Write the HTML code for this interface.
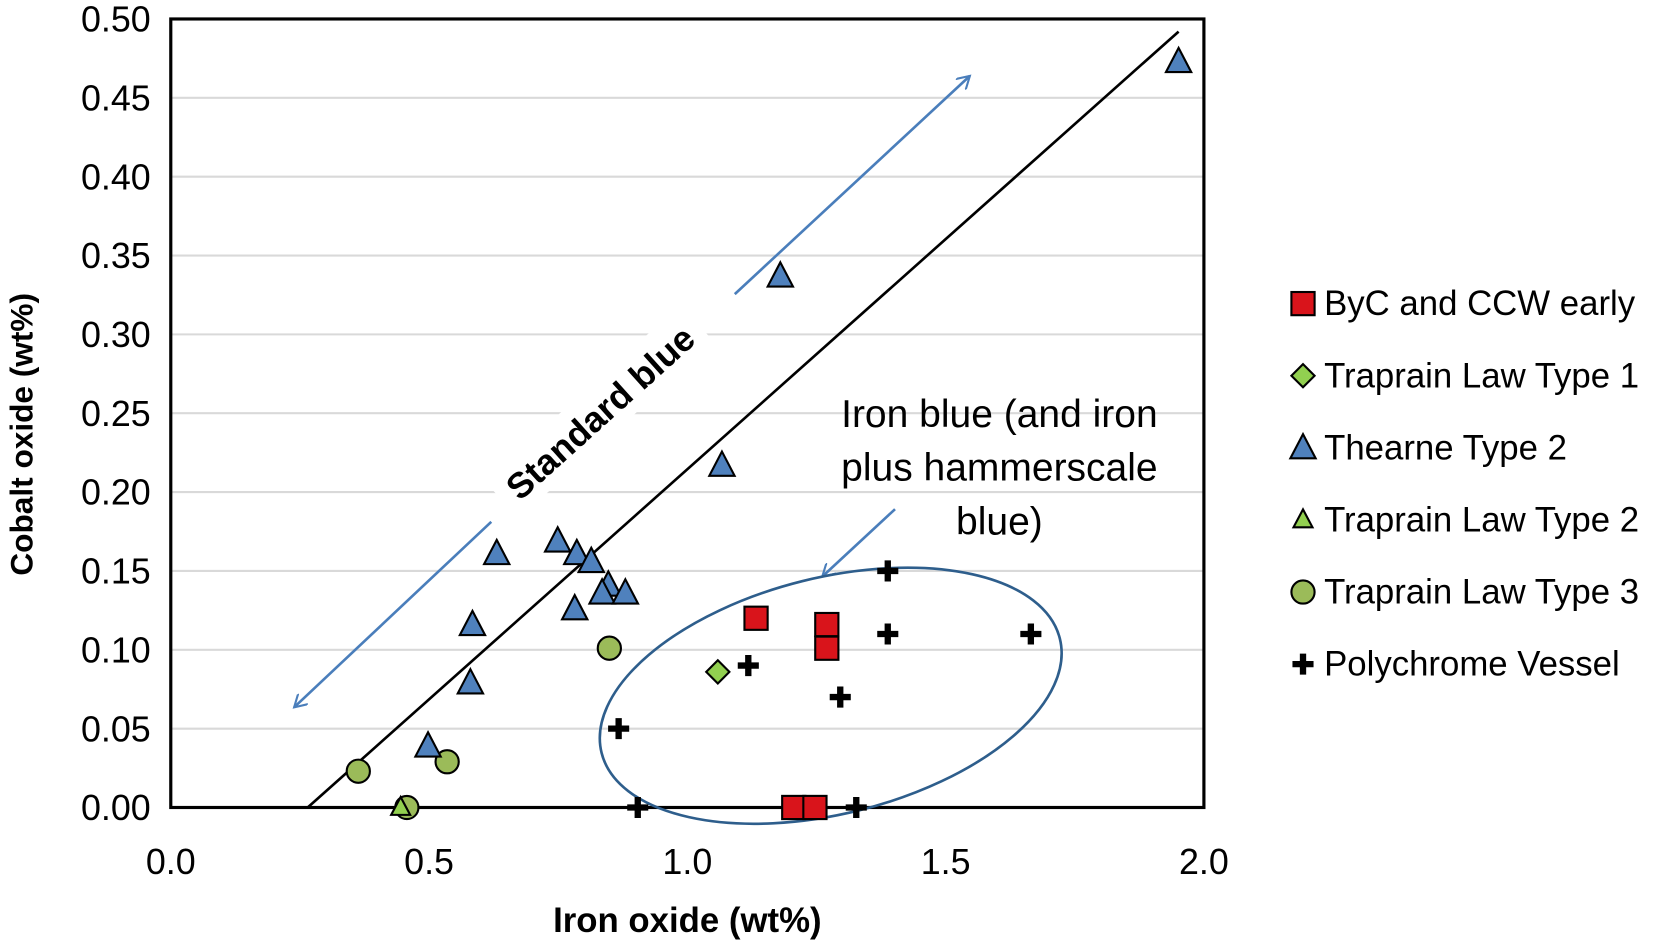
<!DOCTYPE html>
<html><head><meta charset="utf-8"><style>
html,body{margin:0;padding:0;background:#fff;}
svg{display:block;font-family:"Liberation Sans",Calibri,sans-serif;}
</style></head><body>
<svg id="chart" width="1653" height="942" viewBox="0 0 1568 893.6" preserveAspectRatio="none" xmlns="http://www.w3.org/2000/svg">
<g id="grid"></g>
<g id="axes"></g>
<g id="annot"></g>
<g id="marks"></g>
<g id="legend"></g>
</svg>
<script>
const xTicks=[0,0.5,1.0,1.5,2.0];
const xTickLabels=["0.0","0.5","1.0","1.5","2.0"];
const yTicks=[0,0.05,0.1,0.15,0.2,0.25,0.3,0.35,0.4,0.45,0.5];
const yTickLabels=["0.00","0.05","0.10","0.15","0.20","0.25","0.30","0.35","0.40","0.45","0.50"];
const seriesNames=["ByC and CCW early","Traprain Law Type 1","Thearne Type 2","Traprain Law Type 2","Traprain Law Type 3","Polychrome Vessel"];
const bycX=[1.133,1.27,1.27,1.206,1.247];
const bycY=[0.120,0.116,0.101,0,0];
const tl1X=[1.059];
const tl1Y=[0.086];
const thX=[1.951,1.18,1.067,0.631,0.749,0.786,0.814,0.847,0.835,0.88,0.782,0.584,0.58,0.498];
const thY=[0.473,0.337,0.217,0.161,0.169,0.161,0.156,0.141,0.136,0.136,0.126,0.116,0.079,0.039];
const tl2X=[0.445];
const tl2Y=[0.0];
const tl3X=[0.363,0.535,0.457,0.849];
const tl3Y=[0.023,0.029,0,0.101];
const polyX=[1.388,1.388,1.665,1.118,1.296,0.867,0.904,1.327];
const polyY=[0.150,0.110,0.110,0.090,0.070,0.050,0,0];
const trendX=[0.265,1.951];
const trendY=[0,0.492];

const L=162,R=1142,T=18,B=766;
const sx=v=>L+(v-0)/2*(R-L);
const sy=v=>B-(v/0.5)*(B-T);
const NS="http://www.w3.org/2000/svg";
function mk(tag,attrs,parent,text){const e=document.createElementNS(NS,tag);for(const k in attrs)e.setAttribute(k,attrs[k]);if(text!==undefined)e.textContent=text;parent.appendChild(e);return e;}
const grid=document.getElementById('grid'),axes=document.getElementById('axes'),annot=document.getElementById('annot'),marks=document.getElementById('marks'),legend=document.getElementById('legend');

yTicks.forEach((v,i)=>{
  if(v>0&&v<0.5){const g=mk('line',{x1:L,x2:R,y1:sy(v),y2:sy(v),stroke:'#d9d9d9','stroke-width':2},grid);
  
  }
  const t=mk('text',{x:L-19,y:sy(v)+12,'text-anchor':'end','font-size':34,fill:'#000'},axes,yTickLabels[i]);
  
  
});
xTicks.forEach((v,i)=>{
  const t=mk('text',{x:sx(v),y:B+63,'text-anchor':'middle','font-size':34,fill:'#000'},axes,xTickLabels[i]);
  
  
});
const frame=mk('rect',{x:L,y:T,width:R-L,height:B-T,fill:'none',stroke:'#000','stroke-width':3},axes);


const xt=mk('text',{x:(L+R)/2,y:884,'text-anchor':'middle','font-size':33,'font-weight':'bold'},axes,'Iron oxide (wt%)');


const yt=mk('text',{x:0,y:0,'text-anchor':'middle','font-size':30,'font-weight':'bold',transform:'translate(31,'+((T+B)/2+20)+') rotate(-90)'},axes,'Cobalt oxide (wt%)');



const tl=mk('line',{x1:sx(trendX[0]),y1:sy(trendY[0]),x2:sx(trendX[1]),y2:sy(trendY[1]),stroke:'#000','stroke-width':2.5},annot);



const defs=mk('defs',{},annot);
const m=mk('marker',{id:'ah',markerWidth:14,markerHeight:14,refX:12,refY:7,orient:'auto',markerUnits:'userSpaceOnUse'},defs);
mk('path',{d:'M0,0 L12,7 L0,14',fill:'none',stroke:'#4a7ebb','stroke-width':2},m);
[[697,279,920,72],[466,495,279,671],[849,483,780,547]].forEach(a=>{
  const l=mk('line',{x1:a[0],y1:a[1],x2:a[2],y2:a[3],stroke:'#4a7ebb','stroke-width':2.5,'marker-end':'url(#ah)'},annot);
  
  
});
const el=mk('ellipse',{cx:788,cy:660,rx:224,ry:112,fill:'none',stroke:'#2e5e8c','stroke-width':2.5,transform:'rotate(-14 788 660)'},annot);


const sbg=mk('rect',{x:-125,y:-26,width:250,height:48,fill:'#fff',transform:'translate(570,392) rotate(-42)'},annot);


const sb=mk('text',{x:0,y:11,'text-anchor':'middle','font-size':34,'font-weight':'bold',transform:'translate(570,392) rotate(-42)'},annot,'Standard blue');


['Iron blue (and iron','plus hammerscale','blue)'].forEach((s,i)=>{
  const t=mk('text',{x:948,y:405+i*51,'text-anchor':'middle','font-size':37},annot,s);
  
  
});

function marker(type,x,y,parent){
  let e;
  if(type===0) e=mk('rect',{x:x-11,y:y-11,width:22,height:22,fill:'#d9141b',stroke:'#000','stroke-width':2},parent);
  else if(type===1) e=mk('path',{d:`M${x},${y-11}L${x+11},${y}L${x},${y+11}L${x-11},${y}Z`,fill:'#92d050',stroke:'#000','stroke-width':2},parent);
  else if(type===2) e=mk('path',{d:`M${x},${y-13}L${x+12},${y+10}L${x-12},${y+10}Z`,fill:'#4f81bd',stroke:'#000','stroke-width':2},parent);
  else if(type===3) e=mk('path',{d:`M${x},${y-10}L${x+9},${y+7}L${x-9},${y+7}Z`,fill:'#92d050',stroke:'#000','stroke-width':2},parent);
  else if(type===4) e=mk('circle',{cx:x,cy:y,r:11,fill:'#9bbb59',stroke:'#000','stroke-width':2},parent);
  else e=mk('path',{d:`M${x-3},${y-10}h6v7h7v6h-7v7h-6v-7h-7v-6h7z`,fill:'#000'},parent);
  return e;
}
const allX=[bycX,tl1X,thX,tl2X,tl3X,polyX],allY=[bycY,tl1Y,thY,tl2Y,tl3Y,polyY];
const order=[4,3,1,0,2,5];
order.forEach(s=>{
  allX[s].forEach((v,i)=>{
    const e=marker(s,sx(v),sy(allY[s][i]),marks);
    
    
  });
});
seriesNames.forEach((n,i)=>{
  const y=288+i*68.4;
  const e=marker(i,1236,y,legend);
  
  
  const t=mk('text',{x:1256,y:y+11,'font-size':33},legend,n);
  
  
});
</script>
</body></html>
